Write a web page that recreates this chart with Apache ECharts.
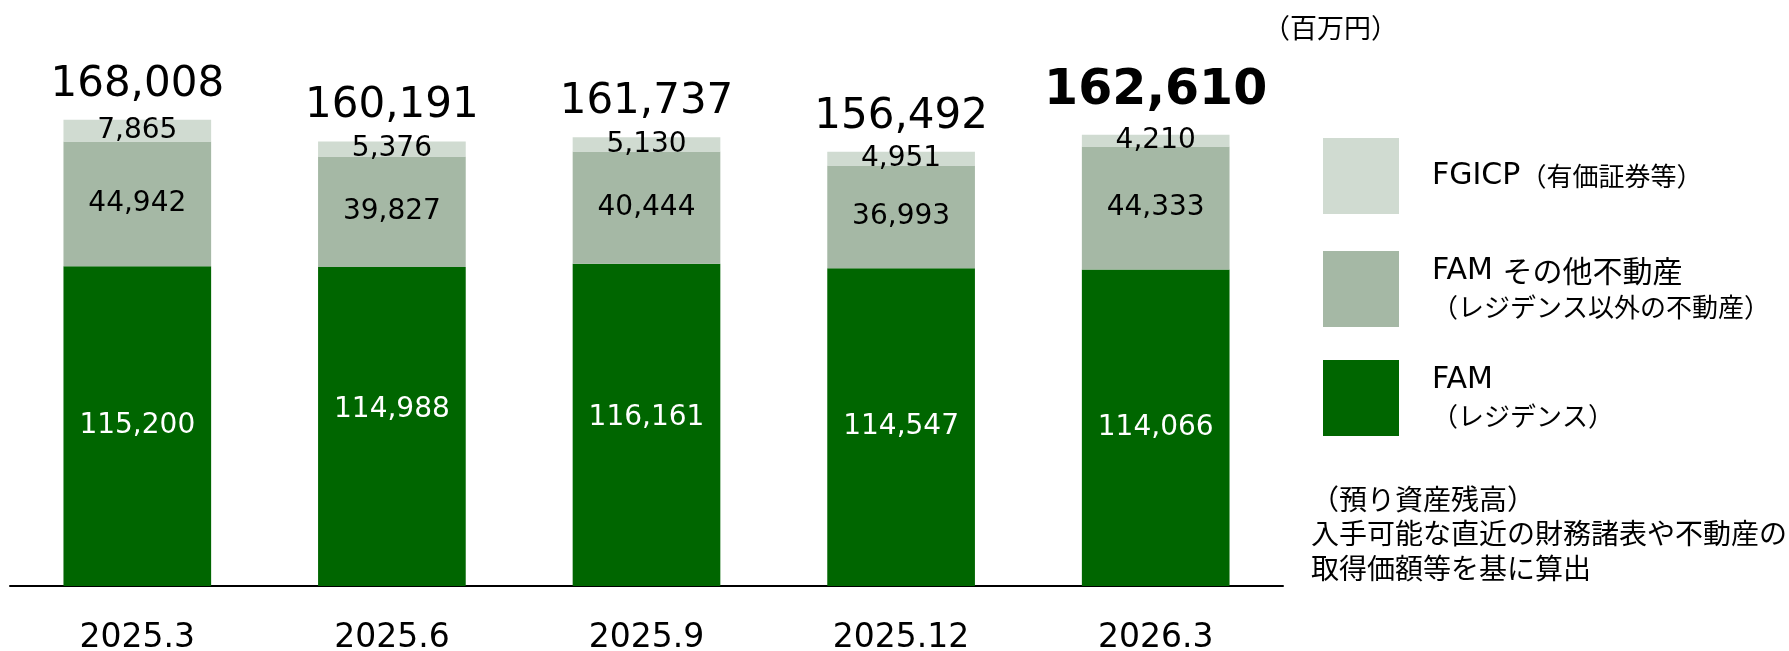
<!DOCTYPE html>
<html>
<head>
<meta charset="utf-8">
<script src="https://cdn.jsdelivr.net/npm/echarts@6/dist/echarts.min.js"></script>
<style>
html,body{margin:0;padding:0;background:#fff;}
#chart{width:1789px;height:651px;}
</style>
</head>
<body>
<div id="chart"></div>
<script>
// ---- data ----
const categories = ['2025.3', '2025.6', '2025.9', '2025.12', '2026.3'];
const residence = [115200, 114988, 116161, 114547, 114066];      // FAM（レジデンス）
const otherRealEstate = [44942, 39827, 40444, 36993, 44333];     // FAM その他不動産
const securities = [7865, 5376, 5130, 4951, 4210];               // FGICP（有価証券等）
const totals = [168008, 160191, 161737, 156492, 162610];
const seriesNames = ['FAM（レジデンス）', 'FAM その他不動産（レジデンス以外の不動産）', 'FGICP（有価証券等）'];
const unitText = '（百万円）';
const noteLines = ['（預り資産残高）', '入手可能な直近の財務諸表や不動産の', '取得価額等を基に算出'];

// ---- styling ----
const NUM_FONT = '"DejaVu Sans", Verdana, sans-serif';
const JP_FONT = '"Noto Sans CJK JP", "DejaVu Sans", sans-serif';
const colors = ['#006600', '#a5b8a5', '#d0dbd1'];
const residenceNudge = [0, -17, -7, 0, 0];

const fmt = v => v.toLocaleString('en-US');

const chart = echarts.init(document.getElementById('chart'), null, {renderer: 'canvas'});

function legendFor(name, top, formatterText) {
  return {
    data: [name],
    left: 1323,
    top: top,
    orient: 'vertical',
    padding: 0,
    itemWidth: 76,
    itemHeight: 76,
    icon: 'rect',
    selectedMode: false,
    formatter: () => formatterText,
    textStyle: {
      padding: [0, 0, 0, 28],
      color: '#000',
      rich: {
        a: {fontSize: 30, fontFamily: NUM_FONT, color: '#000', lineHeight: 36},
        b: {fontSize: 26, fontFamily: JP_FONT, color: '#000', lineHeight: 36},
        c: {fontSize: 26, fontFamily: JP_FONT, color: '#000', lineHeight: 36},
        j: {fontSize: 30, fontFamily: JP_FONT, color: '#000', lineHeight: 36}
      }
    }
  };
}

const option = {
  animation: false,
  backgroundColor: '#fff',
  grid: {left: 10, right: 506, top: 31, bottom: 65, containLabel: false, outerBoundsMode: 'none'},
  xAxis: {
    type: 'category',
    data: categories,
    axisLine: {show: true, lineStyle: {color: '#000', width: 2}},
    axisTick: {show: false},
    axisLabel: {fontSize: 33, fontFamily: NUM_FONT, color: '#000', margin: 36}
  },
  yAxis: {
    type: 'value',
    min: 0,
    max: 200000,
    show: false,
    splitLine: {show: false}
  },
  legend: [
    legendFor(seriesNames[2], 138, '{a|FGICP}{b|（有価証券等）}'),
    legendFor(seriesNames[1], 251, '{a|FAM }{j|その他不動産}\n{c|（レジデンス以外の不動産）}'),
    legendFor(seriesNames[0], 360, '{a|FAM}\n{c|（レジデンス）}')
  ],
  graphic: [
    {type: 'text', x: 1263, y: 28, style: {text: unitText, fontSize: 27, fontFamily: JP_FONT, fill: '#000', verticalAlign: 'middle', align: 'left'}},
    {type: 'text', x: 1311, y: 499, style: {text: noteLines[0], fontSize: 28, fontFamily: JP_FONT, fill: '#000', verticalAlign: 'middle', align: 'left'}},
    {type: 'text', x: 1311, y: 533, style: {text: noteLines[1], fontSize: 28, fontFamily: JP_FONT, fill: '#000', verticalAlign: 'middle', align: 'left'}},
    {type: 'text', x: 1311, y: 568, style: {text: noteLines[2], fontSize: 28, fontFamily: JP_FONT, fill: '#000', verticalAlign: 'middle', align: 'left'}}
  ],
  series: [
    {
      name: seriesNames[0],
      type: 'bar',
      stack: 'total',
      barWidth: '58%',
      itemStyle: {color: colors[0]},
      data: residence.map((v, i) => ({
        value: v,
        label: {offset: [0, residenceNudge[i]]}
      })),
      label: {show: true, position: 'inside', color: '#fff', fontSize: 28, fontFamily: NUM_FONT, formatter: p => fmt(p.value)}
    },
    {
      name: seriesNames[1],
      type: 'bar',
      stack: 'total',
      itemStyle: {color: colors[1]},
      data: otherRealEstate,
      label: {show: true, position: 'inside', color: '#000', fontSize: 28, fontFamily: NUM_FONT, formatter: p => fmt(p.value)}
    },
    {
      name: seriesNames[2],
      type: 'bar',
      stack: 'total',
      itemStyle: {color: colors[2]},
      data: securities,
      label: {show: true, position: 'inside', color: '#000', fontSize: 28, fontFamily: NUM_FONT, formatter: p => fmt(p.value)}
    },
    {
      name: 'total',
      type: 'scatter',
      symbolSize: 0,
      itemStyle: {color: '#000', opacity: 1},
      data: totals.map((v, i) => {
        const last = i === totals.length - 1;
        return {
          value: v,
          label: last
            ? {fontSize: 49, fontWeight: 'bold', distance: 19, color: '#000'}
            : {fontSize: 42, fontWeight: 'normal', distance: 14, color: '#000'}
        };
      }),
      label: {show: true, position: 'top', color: '#000', opacity: 1, fontFamily: NUM_FONT, formatter: p => fmt(p.value)},
      emphasis: {disabled: true},
      z: 5
    }
  ]
};

chart.setOption(option);
</script>
</body>
</html>
